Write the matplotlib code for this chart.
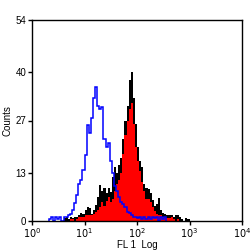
import numpy as np
import matplotlib
matplotlib.use("Agg")
import matplotlib.pyplot as plt

plt.rcParams["font.family"] = ["Liberation Sans", "DejaVu Sans"]

# channel width in decades, histograms start at these channel indices
bin_width = 0.04

blue_start = 8
blue_counts = [0.5, 1, 0, 1, 0.5, 1, 0, 1, 1, 1.5, 2, 3, 4.8, 7, 10, 11,
               13.7, 17.7, 25.8, 23.6, 27.7, 33, 36, 31, 30, 30.5, 22, 20,
               21, 16, 13, 9.5, 8, 6.5, 5, 4.5, 3.8, 2.5, 2.2, 1.6, 1.2, 1,
               0.8, 1, 0.5, 1, 0.6, 1, 0.5, 1, 0.8, 1, 0, 1, 0.6, 1]

black_start = 15
black_counts = [0.8, 1, 0.5, 1, 0.8, 1, 1, 1.5, 2.2, 2, 3, 3.8, 3.5, 1.8,
                3, 4.3, 6.5, 9.7, 8, 9, 7.5, 9, 7.8, 11.8, 14.5, 13, 15, 17,
                22, 27, 31, 38, 40, 33, 26, 20, 16, 14.5, 10, 9, 8.5, 7.5,
                5.6, 4, 4.5, 6.2, 3, 2.2, 1.8, 1.6, 1.5, 1.6, 1.2, 1.6, 1.6,
                1, 0.6, 0, 0.8, 0.5]
red_counts = [0, 0, 0, 0.5, 0.6, 0, 0.5, 1, 1, 1.2, 1.5, 1.6, 1.6, 1.5,
              2, 2.4, 3, 3.8, 5, 4, 5.5, 6.5, 5, 6, 8, 10, 11, 13, 18, 23,
              27, 30, 31.7, 26, 20, 16, 13.5, 10.5, 8, 6, 6, 5, 3.8, 2.8, 2,
              1.5, 1.5, 1, 1, 0.8, 0.8, 1, 0.5, 0, 0.5, 0, 0, 0, 0, 0]

y_ticks = [0, 13, 27, 40, 54]
x_ticks = [1, 10, 100, 1000, 10000]
x_tick_labels = ["$10^{0}$", "$10^{1}$", "$10^{2}$", "$10^{3}$", "$10^{4}$"]


def edges_for(start, n):
    return 10 ** (bin_width * np.arange(start, start + n + 1))


fig = plt.figure(figsize=(2.5, 2.5), dpi=100)
ax = fig.add_axes([0.128, 0.116, 0.84, 0.804])

ax.stairs(black_counts, edges_for(black_start, len(black_counts)),
          fill=True, color="black")
ax.stairs(red_counts, edges_for(black_start, len(red_counts)),
          fill=True, color="red")
ax.stairs(blue_counts, edges_for(blue_start, len(blue_counts)),
          color="blue", linewidth=1.1)

ax.set_xscale("log")
ax.set_xlim(1, 10000)
ax.set_ylim(0, 54)
ax.set_xticks(x_ticks)
ax.set_xticklabels(x_tick_labels)
ax.minorticks_off()
ax.set_yticks(y_ticks)
ax.tick_params(direction="out", length=3, width=1, labelsize=7, pad=1)
ax.set_xlabel("FL 1  Log", fontsize=7, labelpad=0)
ax.set_ylabel("Counts", fontsize=7, labelpad=2)
for s in ax.spines.values():
    s.set_linewidth(1)

fig.savefig("out.png", dpi=100)
